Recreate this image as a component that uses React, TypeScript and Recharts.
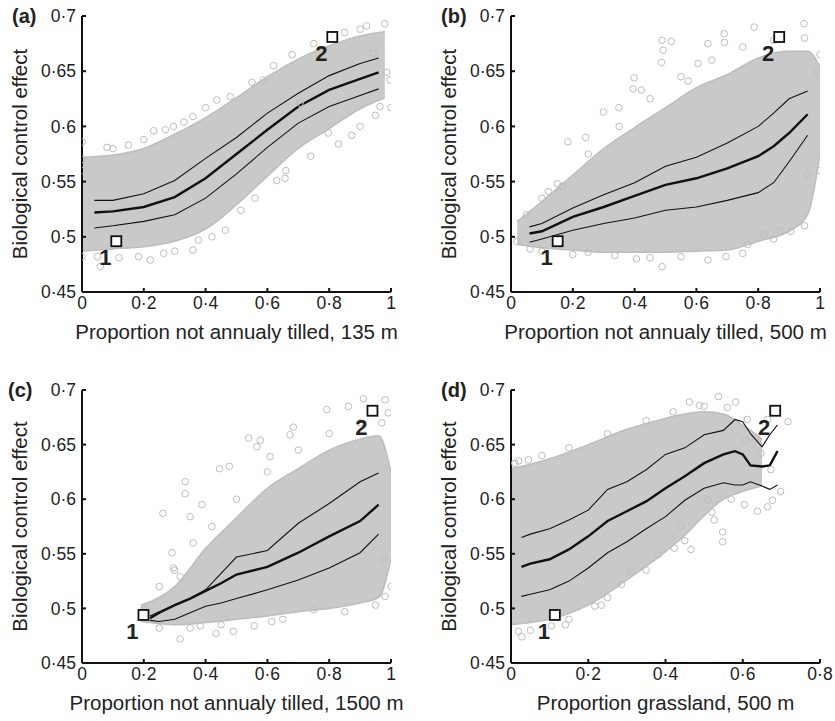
import React from "react";
import { Area, ComposedChart, Line, Scatter, XAxis, YAxis } from "recharts";

const FONT = '"Liberation Sans", Arial, Helvetica, sans-serif';

const yTicks = [0.45, 0.5, 0.55, 0.6, 0.65, 0.7];
const xTicksTill = [0, 0.2, 0.4, 0.6, 0.8, 1];
const xTicksGrass = [0, 0.2, 0.4, 0.6, 0.8];

const titleYLabel = "Biological control effect";

// (a) 135 m
const cloudXA = [0, 0.1, 0.2, 0.3, 0.4, 0.5, 0.6, 0.7, 0.8, 0.9, 0.98];
const cloudHiA = [0.572, 0.574, 0.58, 0.593, 0.608, 0.626, 0.645, 0.661, 0.673, 0.682, 0.686];
const cloudLoA = [0.487, 0.489, 0.491, 0.496, 0.507, 0.529, 0.555, 0.58, 0.598, 0.616, 0.626];
const qXA = [0.04, 0.1, 0.2, 0.3, 0.4, 0.5, 0.6, 0.7, 0.8, 0.9, 0.96];
const qMedA = [0.522, 0.523, 0.527, 0.536, 0.553, 0.575, 0.597, 0.618, 0.633, 0.643, 0.649];
const qUpA = [0.533, 0.533, 0.539, 0.551, 0.571, 0.59, 0.612, 0.63, 0.646, 0.657, 0.662];
const qLoA = [0.508, 0.51, 0.514, 0.52, 0.535, 0.557, 0.581, 0.603, 0.618, 0.628, 0.634];
const outA = [
  [0, 0.586], [0.059, 0.473], [0, 0.482], [0.183, 0.482], [0.221, 0.479], [0.264, 0.485],
  [0.359, 0.488], [0.296, 0.6], [0.359, 0.609], [0.48, 0.627], [0.464, 0.506], [0.514, 0.524],
  [0.63, 0.551], [0.657, 0.553], [0.83, 0.584], [0.797, 0.594], [0.873, 0.592], [0.964, 0.618],
  [1.0, 0.617], [0.997, 0.642], [0.98, 0.693], [0.921, 0.691], [0.986, 0.649], [0.232, 0.596],
  [0.081, 0.581], [0.706, 0.621], [0.587, 0.642], [0.436, 0.624], [0.943, 0.666], [0.377, 0.497],
  [0.1, 0.58], [0.15, 0.583], [0.2, 0.588], [0.27, 0.597], [0.33, 0.604], [0.4, 0.617],
  [0.55, 0.64], [0.62, 0.655], [0.68, 0.665], [0.75, 0.675], [0.85, 0.685], [0.9, 0.688],
  [0.05, 0.482], [0.12, 0.481], [0.3, 0.487], [0.42, 0.5], [0.56, 0.535], [0.66, 0.56],
  [0.74, 0.573], [0.9, 0.6], [0.95, 0.61], [0, 0.57], [0, 0.56],
];
const markA = [[0.111, 0.496, "1"], [0.81, 0.681, "2"]];

// (b) 500 m
const cloudXB = [0.02, 0.1, 0.2, 0.3, 0.4, 0.5, 0.6, 0.7, 0.8, 0.9, 0.96, 1.0];
const cloudHiB = [0.514, 0.532, 0.556, 0.58, 0.599, 0.617, 0.635, 0.647, 0.662, 0.668, 0.668, 0.654];
const cloudLoB = [0.493, 0.49, 0.488, 0.486, 0.486, 0.486, 0.487, 0.488, 0.496, 0.505, 0.52, 0.575];
const qXB = [0.06, 0.1, 0.2, 0.3, 0.4, 0.5, 0.6, 0.7, 0.8, 0.85, 0.9, 0.96];
const qMedB = [0.503, 0.505, 0.518, 0.527, 0.537, 0.547, 0.553, 0.562, 0.573, 0.582, 0.594, 0.611];
const qUpB = [0.509, 0.512, 0.526, 0.538, 0.549, 0.564, 0.572, 0.585, 0.6, 0.612, 0.625, 0.632];
const qLoB = [0.495, 0.498, 0.506, 0.512, 0.517, 0.524, 0.527, 0.533, 0.54, 0.549, 0.568, 0.592];
const outB = [
  [0.489, 0.678], [0.519, 0.677], [0.487, 0.658], [0.492, 0.669], [0.398, 0.644], [0.395, 0.634],
  [0.422, 0.633], [0.349, 0.617], [0.299, 0.613], [0.184, 0.586], [0.242, 0.59], [0.121, 0.541],
  [0.166, 0.546], [0.489, 0.473], [0.406, 0.48], [0.637, 0.479], [0.696, 0.482], [0.691, 0.676],
  [0.637, 0.675], [0.787, 0.69], [0.948, 0.693], [0.991, 0.649], [0.959, 0.556], [0.906, 0.505],
  [0.873, 0.505], [0.019, 0.496], [0.062, 0.489], [0.25, 0.486], [0.336, 0.483], [0.573, 0.641],
  [0.605, 0.657], [0.766, 0.493], [0.82, 0.502], [0.69, 0.684],
  [0.05, 0.52], [0.1, 0.535], [0.15, 0.548], [0.25, 0.575], [0.35, 0.6], [0.45, 0.625],
  [0.55, 0.645], [0.65, 0.66], [0.75, 0.672], [0.85, 0.678], [0.95, 0.68], [1.0, 0.665],
  [0.1, 0.487], [0.2, 0.484], [0.45, 0.481], [0.55, 0.482], [0.75, 0.485], [0.85, 0.498],
  [0.95, 0.51], [1.0, 0.56],
];
const markB = [[0.151, 0.496, "1"], [0.868, 0.681, "2"]];

// (c) 1500 m
const cloudXC = [0.19, 0.25, 0.3, 0.4, 0.5, 0.6, 0.7, 0.8, 0.9, 0.96, 1.0];
const cloudHiC = [0.503, 0.51, 0.52, 0.555, 0.583, 0.61, 0.628, 0.645, 0.655, 0.658, 0.625];
const cloudLoC = [0.488, 0.486, 0.485, 0.487, 0.49, 0.493, 0.497, 0.5, 0.505, 0.51, 0.545];
const qXC = [0.22, 0.25, 0.3, 0.35, 0.4, 0.45, 0.5, 0.6, 0.7, 0.8, 0.9, 0.96];
const qMedC = [0.491, 0.496, 0.503, 0.509, 0.516, 0.523, 0.531, 0.538, 0.551, 0.566, 0.58, 0.595];
const qUpC = [0.493, 0.497, 0.503, 0.509, 0.517, 0.532, 0.547, 0.553, 0.578, 0.596, 0.616, 0.624];
const qLoC = [0.489, 0.488, 0.49, 0.496, 0.502, 0.505, 0.509, 0.517, 0.526, 0.537, 0.551, 0.568];
const outC = [
  [0.262, 0.587], [0.334, 0.616], [0.334, 0.605], [0.35, 0.584], [0.388, 0.595], [0.291, 0.551],
  [0.296, 0.537], [0.318, 0.529], [0.445, 0.628], [0.477, 0.63], [0.539, 0.656], [0.577, 0.654],
  [0.673, 0.659], [0.792, 0.682], [0.862, 0.685], [0.911, 0.692], [0.981, 0.691], [0.318, 0.472],
  [0.434, 0.477], [0.49, 0.479], [0.557, 0.484], [0.614, 0.488], [0.749, 0.499], [0.981, 0.511],
  [0.975, 0.545], [0.383, 0.484], [0.199, 0.499], [0.566, 0.648], [0.609, 0.639], [0.684, 0.666],
  [0.991, 0.679],
  [0.25, 0.52], [0.3, 0.535], [0.36, 0.56], [0.42, 0.575], [0.5, 0.6], [0.6, 0.625],
  [0.7, 0.645], [0.8, 0.66], [0.9, 0.67], [0.97, 0.67], [0.25, 0.482], [0.35, 0.482],
  [0.45, 0.485], [0.65, 0.49], [0.85, 0.497], [0.95, 0.503], [1.0, 0.52],
];
const markC = [[0.199, 0.494, "1"], [0.94, 0.681, "2"]];

// (d) grassland 500 m
const cloudXD = [0, 0.05, 0.1, 0.2, 0.3, 0.4, 0.45, 0.5, 0.55, 0.6, 0.65];
const cloudHiD = [0.628, 0.632, 0.637, 0.65, 0.664, 0.674, 0.678, 0.68, 0.678, 0.668, 0.655];
const cloudLoD = [0.485, 0.487, 0.49, 0.503, 0.526, 0.552, 0.567, 0.585, 0.6, 0.607, 0.612];
const qXD = [0.027, 0.05, 0.1, 0.15, 0.2, 0.25, 0.3, 0.35, 0.4, 0.45, 0.5, 0.55, 0.58, 0.6, 0.62, 0.65, 0.67, 0.69];
const qMedD = [0.538, 0.541, 0.545, 0.554, 0.566, 0.58, 0.589, 0.598, 0.61, 0.621, 0.633, 0.641, 0.644, 0.641, 0.631, 0.63, 0.631, 0.644];
const qUpD = [0.565, 0.568, 0.573, 0.581, 0.59, 0.609, 0.616, 0.627, 0.641, 0.647, 0.659, 0.663, 0.673, 0.671, 0.66, 0.648, 0.659, 0.668];
const qLoD = [0.511, 0.513, 0.517, 0.525, 0.537, 0.551, 0.561, 0.573, 0.584, 0.599, 0.61, 0.615, 0.613, 0.613, 0.616, 0.612, 0.609, 0.613];
const outD = [
  [0.01, 0.633], [0.045, 0.636], [0.234, 0.503], [0.217, 0.502], [0.141, 0.485], [0.105, 0.484],
  [0.028, 0.474], [0.019, 0.479], [0.286, 0.522], [0.311, 0.534], [0.38, 0.549], [0.423, 0.555],
  [0.466, 0.554], [0.548, 0.561], [0.548, 0.57], [0.604, 0.595], [0.638, 0.589], [0.664, 0.593],
  [0.677, 0.599], [0.698, 0.607], [0.717, 0.671], [0.582, 0.689], [0.537, 0.694], [0.462, 0.689],
  [0.488, 0.686], [0.612, 0.673], [0.608, 0.654], [0.647, 0.642], [0.673, 0.627], [0.664, 0.673],
  [0.526, 0.581], [0.509, 0.599], [0.44, 0.575],
  [0.02, 0.635], [0.08, 0.64], [0.15, 0.647], [0.25, 0.66], [0.35, 0.672], [0.42, 0.68],
  [0.5, 0.685], [0.56, 0.684], [0.05, 0.48], [0.15, 0.49], [0.25, 0.51], [0.35, 0.535],
  [0.45, 0.562], [0.52, 0.588], [0.57, 0.6],
];
const markD = [[0.1135, 0.494, "1"], [0.684, 0.681, "2"]];

const fmt = (v: number) => String(v).replace(".", "·");
const toPts = (xs: number[], ys: number[]) => xs.map((x, i) => ({ x, y: ys[i] }));

const OpenCircle = (p: any) => (
  <circle cx={p.cx} cy={p.cy} r={3.3} fill="none" stroke="#bdbdbd" strokeWidth={1} />
);

const Marker = (p: any) => (
  <g>
    <rect x={p.cx - 5} y={p.cy - 5} width={10} height={10} fill="#fff" stroke="#111" strokeWidth={1.8} />
    <text x={p.cx - 11} y={p.cy + 24} textAnchor="middle" fontFamily={FONT} fontWeight="bold" fontSize={22} fill="#222">
      {p.payload.label}
    </text>
  </g>
);

type PanelProps = {
  left: number;
  top: number;
  plotH: number;
  tag: string;
  xTitle: string;
  xMax: number;
  xTicks: number[];
  cloudX: number[];
  cloudLo: number[];
  cloudHi: number[];
  qX: number[];
  qMed: number[];
  qUp: number[];
  qLo: number[];
  out: number[][];
  marks: any[][];
  bottom: number;
};

function Panel(props: PanelProps) {
  const { left, top, plotH, tag, xTitle, xMax, xTicks, bottom } = props;
  const cloud = props.cloudX.map((x, i) => ({ x, range: [props.cloudLo[i], props.cloudHi[i]] }));
  const outliers = props.out.map(([x, y]) => ({ x, y }));
  const marks = props.marks.map(([x, y, label]) => ({ x, y, label }));
  const height = 16 + plotH + 50 + bottom;
  const tickStyle = { fill: "#222", fontSize: 17.5, fontFamily: FONT };
  return (
    <div style={{ position: "absolute", left, top, width: 417, height }}>
      <ComposedChart width={417} height={height} data={cloud} margin={{ top: 16, right: 26, left: 0, bottom }}>
        <XAxis
          dataKey="x"
          type="number"
          domain={[0, xMax]}
          ticks={xTicks}
          allowDataOverflow
          tickFormatter={fmt}
          height={50}
          tickSize={-4}
          tickMargin={9}
          axisLine={{ stroke: "#111", strokeWidth: 2 }}
          tickLine={{ stroke: "#111", strokeWidth: 2 }}
          tick={tickStyle}
          label={{ value: xTitle, position: "insideBottom", offset: 3, fill: "#222", fontSize: 20.5, fontFamily: FONT }}
        />
        <YAxis
          type="number"
          domain={[0.45, 0.7]}
          ticks={yTicks}
          allowDataOverflow
          tickFormatter={fmt}
          width={82}
          tickSize={-4}
          tickMargin={10}
          axisLine={{ stroke: "#111", strokeWidth: 2 }}
          tickLine={{ stroke: "#111", strokeWidth: 2 }}
          tick={tickStyle}
          label={{
            value: titleYLabel,
            angle: -90,
            position: "insideLeft",
            offset: 20,
            fill: "#222",
            fontSize: 20.5,
            fontFamily: FONT,
            style: { textAnchor: "middle" },
          }}
        />
        <Area
          dataKey="range"
          type="monotone"
          fill="#c9c9c9"
          fillOpacity={1}
          stroke="#bdbdbd"
          strokeWidth={1.5}
          isAnimationActive={false}
        />
        <Scatter data={outliers} dataKey="y" shape={OpenCircle} isAnimationActive={false} />
        <Line data={toPts(props.qX, props.qUp)} dataKey="y" type="linear" stroke="#111" strokeWidth={1.1} dot={false} isAnimationActive={false} />
        <Line data={toPts(props.qX, props.qLo)} dataKey="y" type="linear" stroke="#111" strokeWidth={1.1} dot={false} isAnimationActive={false} />
        <Line data={toPts(props.qX, props.qMed)} dataKey="y" type="linear" stroke="#111" strokeWidth={2.4} dot={false} isAnimationActive={false} />
        <Scatter data={marks} dataKey="y" shape={Marker} isAnimationActive={false} />
      </ComposedChart>
      <div
        style={{
          position: "absolute",
          left: tag === "(c)" ? 8 : 12,
          top: 6,
          fontFamily: FONT,
          fontWeight: "bold",
          fontSize: 20,
          lineHeight: "20px",
          color: "#222",
        }}
      >
        {tag}
      </div>
    </div>
  );
}

export default function App() {
  return (
    <div style={{ position: "absolute", left: 0, top: 0, width: 835, height: 721, background: "#fff" }}>
      <Panel left={0} top={0} plotH={276} bottom={18} tag="(a)" xTitle="Proportion not annualy tilled, 135 m"
        xMax={1} xTicks={xTicksTill} cloudX={cloudXA} cloudLo={cloudLoA} cloudHi={cloudHiA}
        qX={qXA} qMed={qMedA} qUp={qUpA} qLo={qLoA} out={outA} marks={markA} />
      <Panel left={429} top={0} plotH={276} bottom={18} tag="(b)" xTitle="Proportion not annualy tilled, 500 m"
        xMax={1} xTicks={xTicksTill} cloudX={cloudXB} cloudLo={cloudLoB} cloudHi={cloudHiB}
        qX={qXB} qMed={qMedB} qUp={qUpB} qLo={qLoB} out={outB} marks={markB} />
      <Panel left={0} top={374} plotH={273} bottom={8} tag="(c)" xTitle="Proportion not annualy tilled, 1500 m"
        xMax={1} xTicks={xTicksTill} cloudX={cloudXC} cloudLo={cloudLoC} cloudHi={cloudHiC}
        qX={qXC} qMed={qMedC} qUp={qUpC} qLo={qLoC} out={outC} marks={markC} />
      <Panel left={429} top={374} plotH={273} bottom={8} tag="(d)" xTitle="Proportion grassland, 500 m"
        xMax={0.8} xTicks={xTicksGrass} cloudX={cloudXD} cloudLo={cloudLoD} cloudHi={cloudHiD}
        qX={qXD} qMed={qMedD} qUp={qUpD} qLo={qLoD} out={outD} marks={markD} />
    </div>
  );
}
